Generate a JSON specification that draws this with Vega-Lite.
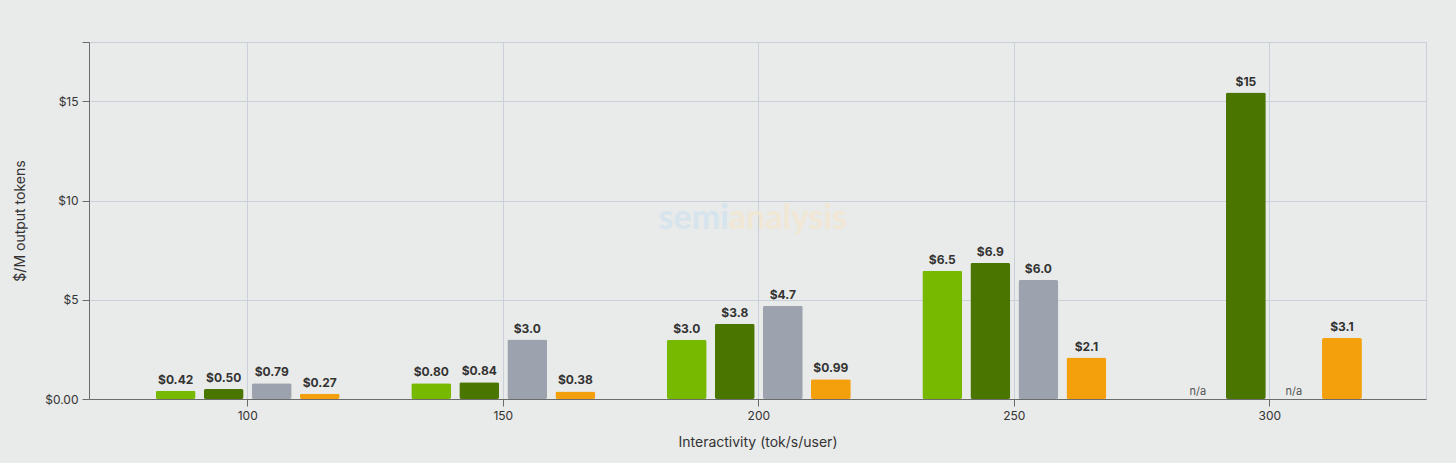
{
  "$schema": "https://vega.github.io/schema/vega-lite/v6.json",
  "width": 1337,
  "height": 357,
  "autosize": {"type": "none"},
  "padding": {"left": 89, "top": 42, "right": 30, "bottom": 64},
  "background": "#e9eaea",
  "data": {
    "values": [
      {"rate": "100", "series": "a", "value": 0.42},
      {"rate": "100", "series": "b", "value": 0.50},
      {"rate": "100", "series": "c", "value": 0.79},
      {"rate": "100", "series": "d", "value": 0.27},
      {"rate": "150", "series": "a", "value": 0.80},
      {"rate": "150", "series": "b", "value": 0.84},
      {"rate": "150", "series": "c", "value": 3.0},
      {"rate": "150", "series": "d", "value": 0.38},
      {"rate": "200", "series": "a", "value": 2.98},
      {"rate": "200", "series": "b", "value": 3.8},
      {"rate": "200", "series": "c", "value": 4.7},
      {"rate": "200", "series": "d", "value": 0.99},
      {"rate": "250", "series": "a", "value": 6.47},
      {"rate": "250", "series": "b", "value": 6.86},
      {"rate": "250", "series": "c", "value": 6.0},
      {"rate": "250", "series": "d", "value": 2.09},
      {"rate": "300", "series": "a", "value": null},
      {"rate": "300", "series": "b", "value": 15.45},
      {"rate": "300", "series": "c", "value": null},
      {"rate": "300", "series": "d", "value": 3.07}
    ]
  },
  "encoding": {
    "x": {
      "field": "rate",
      "type": "nominal",
      "sort": ["100", "150", "200", "250", "300"],
      "scale": {"paddingInner": 0.28, "paddingOuter": 0.256, "align": 0.51},
      "title": "Interactivity (tok/s/user)",
      "axis": {
        "labelAngle": 0,
        "grid": true,
        "domainColor": "#6b6b6b",
        "tickColor": "#6b6b6b",
        "tickSize": 7,
        "labelPadding": 4,
        "titlePadding": 14
      }
    }
  },
  "layer": [
    {
      "mark": {"type": "bar", "cornerRadius": 2},
      "encoding": {
        "xOffset": {
          "field": "series",
          "type": "nominal",
          "scale": {"paddingInner": 0.17, "paddingOuter": 0}
        },
        "y": {
          "field": "value",
          "type": "quantitative",
          "scale": {"domain": [0, 18], "nice": false},
          "title": "$/M output tokens",
          "axis": {
            "values": [0, 5, 10, 15, 18],
            "labelExpr": "datum.value == 0 ? '$0.00' : datum.value == 18 ? '' : '$' + datum.value",
            "domainColor": "#6b6b6b",
            "tickColor": "#6b6b6b",
            "tickSize": 7,
            "labelPadding": 4,
            "titlePadding": 17
          }
        },
        "color": {
          "field": "series",
          "type": "nominal",
          "scale": {
            "domain": ["a", "b", "c", "d"],
            "range": ["#76b900", "#4a7600", "#9da3ae", "#f49f0c"]
          },
          "legend": null
        }
      }
    },
    {
      "transform": [{"filter": "datum.value != null"}],
      "mark": {
        "type": "text",
        "baseline": "bottom",
        "dy": -4,
        "fontWeight": "bold",
        "fontSize": 12,
        "color": "#333333"
      },
      "encoding": {
        "xOffset": {"field": "series", "type": "nominal"},
        "y": {"field": "value", "type": "quantitative"},
        "text": {"field": "value", "type": "quantitative", "format": "$.2r"}
      }
    },
    {
      "transform": [{"filter": "datum.value == null"}, {"calculate": "'n/a'", "as": "lbl"}],
      "mark": {
        "type": "text",
        "baseline": "bottom",
        "dy": -2,
        "fontSize": 11,
        "color": "#555555"
      },
      "encoding": {
        "xOffset": {"field": "series", "type": "nominal"},
        "y": {"datum": 0, "type": "quantitative"},
        "text": {"field": "lbl"}
      }
    },
    {
      "data": {"values": [{"word": "semi"}]},
      "mark": {
        "type": "text",
        "align": "right",
        "dx": -30,
        "fontSize": 34,
        "fontWeight": "bold",
        "font": "Lato",
        "color": "#d3e3ee",
        "opacity": 0.85
      },
      "encoding": {
        "x": {"datum": "200", "bandPosition": 0.5},
        "y": {"datum": 9.1, "type": "quantitative"},
        "text": {"field": "word"}
      }
    },
    {
      "data": {"values": [{"word": "analysis"}]},
      "mark": {
        "type": "text",
        "align": "left",
        "dx": -30,
        "fontSize": 34,
        "fontWeight": "bold",
        "font": "Lato",
        "color": "#f3e7d2",
        "opacity": 0.85
      },
      "encoding": {
        "x": {"datum": "200", "bandPosition": 0.5},
        "y": {"datum": 9.1, "type": "quantitative"},
        "text": {"field": "word"}
      }
    }
  ],
  "config": {
    "font": "Inter",
    "view": {"stroke": "#c9d0da", "strokeWidth": 1},
    "axis": {
      "gridColor": "#c9d0da",
      "gridOpacity": 1,
      "labelColor": "#333333",
      "labelFontSize": 12,
      "labelFont": "Inter",
      "titleFont": "Inter",
      "titleFontSize": 14,
      "titleFontWeight": "normal",
      "titleColor": "#333333"
    }
  }
}
